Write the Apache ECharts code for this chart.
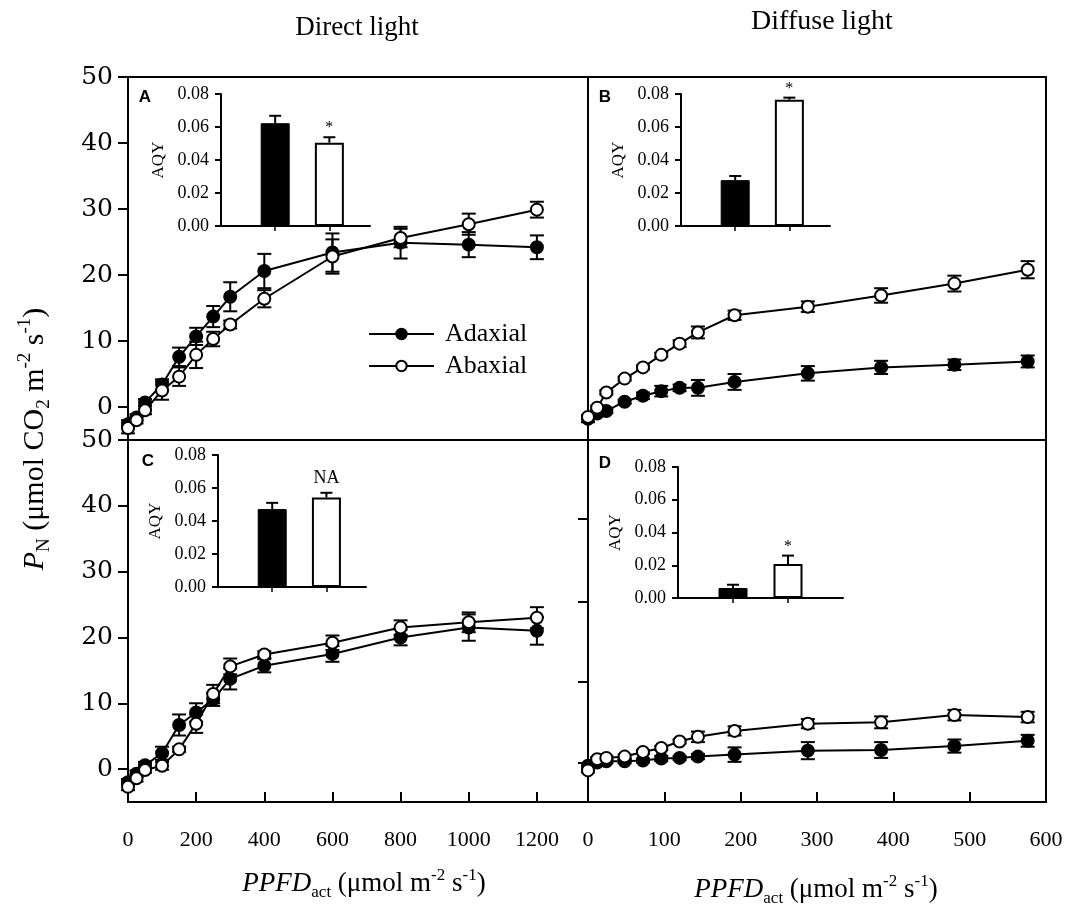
<!DOCTYPE html>
<html>
<head>
<meta charset="utf-8">
<script src="https://cdn.jsdelivr.net/npm/echarts@6/dist/echarts.min.js"></script>
<style>html,body{margin:0;padding:0;background:#fff}#c{width:1072px;height:905px}</style>
</head>
<body>
<div id="c"></div>
<script>
// ---------- data ----------
const directPPFD  = [0, 25, 50, 100, 150, 200, 250, 300, 400, 600, 800, 1000, 1200];
const diffusePPFD = [0, 12, 24, 48, 72, 96, 120, 144, 192, 288, 384, 480, 576];

const aAdaxial    = [-2.6, -1.6, 0.7, 3.4, 7.6, 10.7, 13.7, 16.7, 20.6, 23.4, 24.9, 24.6, 24.2];
const aAdaxialErr = [0.6, 0.5, 0.5, 0.8, 1.4, 1.3, 1.6, 2.2, 2.6, 2.9, 2.4, 1.9, 1.8];
const aAbaxial    = [-3.2, -2.0, -0.5, 2.5, 4.6, 7.9, 10.3, 12.5, 16.4, 22.8, 25.6, 27.7, 29.9];
const aAbaxialErr = [0.8, 0.5, 0.6, 1.4, 1.4, 2.0, 1.1, 0.6, 1.3, 2.6, 1.4, 1.6, 1.2];

const bAdaxial    = [-1.8, -1.0, -0.6, 0.8, 1.7, 2.4, 2.9, 2.9, 3.8, 5.1, 6.0, 6.4, 6.9];
const bAdaxialErr = [0.5, 0.4, 0.3, 0.3, 0.5, 0.8, 0.5, 1.2, 1.2, 1.1, 1.0, 0.8, 0.9];
const bAbaxial    = [-1.5, -0.1, 2.2, 4.3, 6.0, 7.9, 9.6, 11.3, 13.9, 15.2, 16.9, 18.7, 20.8];
const bAbaxialErr = [0.3, 0.3, 0.3, 0.3, 0.3, 0.3, 0.5, 0.9, 0.7, 0.8, 1.1, 1.2, 1.3];

const cAdaxial    = [-2.0, -0.7, 0.6, 2.4, 6.7, 8.6, 10.6, 13.7, 15.7, 17.5, 20.0, 21.5, 21.0];
const cAdaxialErr = [0.5, 0.5, 0.5, 1.0, 1.6, 1.4, 1.0, 1.6, 1.0, 1.2, 1.2, 2.0, 2.1];
const cAbaxial    = [-2.7, -1.4, -0.15, 0.5, 3.0, 6.9, 11.4, 15.6, 17.4, 19.2, 21.5, 22.3, 23.0];
const cAbaxialErr = [0.5, 0.5, 0.4, 0.6, 0.4, 1.4, 1.4, 1.2, 0.5, 1.1, 1.1, 1.5, 1.6];

const dAdaxial    = [0.5, 1.0, 1.2, 1.2, 1.3, 1.6, 1.7, 1.9, 2.2, 2.8, 2.9, 3.5, 4.3];
const dAdaxialErr = [0.3, 0.3, 0.3, 0.3, 0.3, 0.4, 0.3, 0.4, 1.1, 1.3, 1.2, 1.0, 0.9];
const dAbaxial    = [-0.2, 1.5, 1.7, 1.9, 2.6, 3.2, 4.2, 4.9, 5.8, 6.9, 7.1, 8.2, 7.9];
const dAbaxialErr = [0.3, 0.3, 0.3, 0.3, 0.3, 0.3, 0.3, 0.8, 0.7, 0.7, 0.9, 0.8, 0.8];

// inset AQY bars (panels A, B, C, D)
const aqyAdaxial    = [0.0623, 0.0278, 0.0472, 0.0061];
const aqyAdaxialErr = [0.0045, 0.0025, 0.0038, 0.0020];
const aqyAbaxial    = [0.0505, 0.0765, 0.0543, 0.0207];
const aqyAbaxialErr = [0.0033, 0.0013, 0.0028, 0.0052];
const aqyMarks      = ['*', '*', 'NA', '*'];

// tick labels
const pnTicks       = [0, 10, 20, 30, 40, 50];
const directTicks   = [0, 200, 400, 600, 800, 1000, 1200];
const diffuseTicks  = [0, 100, 200, 300, 400, 500, 600];
const aqyTicks      = [0, 0.02, 0.04, 0.06, 0.08];
const dSideTicks    = [0.9, 13.3, 25.5, 38.1];
const panelLetters  = ['A', 'B', 'C', 'D'];

// ---------- layout ----------
const SERIF = 'Liberation Serif';
const mainGrids = [
  {left: 128, top: 77,  width: 460, height: 363},
  {left: 588, top: 77,  width: 458, height: 363},
  {left: 128, top: 440, width: 460, height: 362},
  {left: 588, top: 440, width: 458, height: 362}
];
const insetGrids = [
  {left: 221, top: 94,  width: 149, height: 132, xmax: 2.75},
  {left: 681, top: 94,  width: 149, height: 132, xmax: 2.75},
  {left: 218, top: 455, width: 148, height: 132, xmax: 2.73},
  {left: 678, top: 467, width: 165, height: 131, xmax: 3.0}
];
const letterPos = [[145, 97], [605, 97], [148, 461], [605, 463]];

const panels = [
  {x: directPPFD,  ad: aAdaxial, adE: aAdaxialErr, ab: aAbaxial, abE: aAbaxialErr, xmax: 1350},
  {x: diffusePPFD, ad: bAdaxial, adE: bAdaxialErr, ab: bAbaxial, abE: bAbaxialErr, xmax: 600},
  {x: directPPFD,  ad: cAdaxial, adE: cAdaxialErr, ab: cAbaxial, abE: cAbaxialErr, xmax: 1350},
  {x: diffusePPFD, ad: dAdaxial, adE: dAdaxialErr, ab: dAbaxial, abE: dAbaxialErr, xmax: 600}
];

const grid = [], xAxis = [], yAxis = [], series = [];

mainGrids.forEach((g, i) => {
  grid.push({left: g.left, top: g.top, width: g.width, height: g.height, show: true,
    borderColor: '#000', borderWidth: 2, backgroundColor: 'transparent', containLabel: false});
  const isBottom = i >= 2;
  const ticks = (i % 2 === 0) ? directTicks : diffuseTicks;
  xAxis.push({type: 'value', gridIndex: i, min: 0, max: panels[i].xmax, position: 'bottom',
    axisLine: {show: isBottom, onZero: false, lineStyle: {color: '#000', width: 2}},
    axisTick: {show: isBottom, inside: true, length: 10, lineStyle: {color: '#000', width: 2}, customValues: ticks},
    axisLabel: {show: isBottom, customValues: ticks, margin: 27, color: '#000', fontFamily: SERIF, fontSize: 22,
      formatter: v => String(v)},
    splitLine: {show: false}});
  const isLeft = i % 2 === 0;
  yAxis.push({type: 'value', gridIndex: i, min: -5, max: 50,
    axisLine: {show: true, onZero: false, lineStyle: {color: '#000', width: 2}},
    axisTick: {show: isLeft || i === 3, inside: false, length: 10, lineStyle: {color: '#000', width: 2},
      customValues: i === 3 ? dSideTicks : pnTicks},
    axisLabel: {show: isLeft, customValues: pnTicks, margin: 15, color: '#000', fontFamily: 'DejaVu Serif', fontSize: 25,
      formatter: v => String(v)},
    splitLine: {show: false}});
});

insetGrids.forEach((g, i) => {
  grid.push({left: g.left, top: g.top, width: g.width, height: g.height, show: false});
  xAxis.push({type: 'value', gridIndex: 4 + i, min: 0, max: g.xmax,
    axisLine: {show: true, onZero: false, lineStyle: {color: '#000', width: 2}},
    axisTick: {show: true, inside: false, length: 5, customValues: [1, 2], lineStyle: {color: '#000', width: 1.5}},
    axisLabel: {show: false}, splitLine: {show: false}});
  yAxis.push({type: 'value', gridIndex: 4 + i, min: 0, max: 0.08, interval: 0.02,
    name: 'AQY', nameLocation: 'middle', nameGap: 54, nameRotate: 90,
    nameTextStyle: {color: '#000', fontFamily: SERIF, fontSize: 17},
    axisLine: {show: true, onZero: false, lineStyle: {color: '#000', width: 2}},
    axisTick: {show: true, inside: false, length: 6, lineStyle: {color: '#000', width: 2}},
    axisLabel: {show: true, margin: 12, color: '#000', fontFamily: SERIF, fontSize: 18,
      formatter: v => v.toFixed(2), customValues: aqyTicks},
    splitLine: {show: false}});
});

function errRender(cap) {
  return function (params, api) {
    const x = api.value(0), y = api.value(1), e = api.value(2);
    const top = api.coord([x, y + e]);
    const bot = api.coord([x, y - e]);
    const st = {stroke: '#000', lineWidth: 2};
    return {type: 'group', children: [
      {type: 'line', shape: {x1: top[0], y1: top[1], x2: bot[0], y2: bot[1]}, style: st},
      {type: 'line', shape: {x1: top[0] - cap, y1: top[1], x2: top[0] + cap, y2: top[1]}, style: st},
      {type: 'line', shape: {x1: bot[0] - cap, y1: bot[1], x2: bot[0] + cap, y2: bot[1]}, style: st}
    ]};
  };
}

panels.forEach((p, i) => {
  [['Adaxial', p.ad, p.adE, '#000', 3], ['Abaxial', p.ab, p.abE, '#fff', 5]].forEach(([name, vals, errs, fill, z]) => {
    series.push({type: 'custom', name: 'err' + name + i, xAxisIndex: i, yAxisIndex: i, z: z - 1,
      renderItem: errRender(7), encode: {x: 0, y: 1},
      data: p.x.map((x, k) => [x, vals[k], errs[k]]), silent: true});
    series.push({type: 'line', name: name, xAxisIndex: i, yAxisIndex: i, z: z,
      data: p.x.map((x, k) => [x, vals[k]]),
      symbol: 'circle', symbolSize: 12, showSymbol: true,
      itemStyle: {color: fill, borderColor: '#000', borderWidth: 2},
      lineStyle: {color: '#000', width: 2}, silent: true});
  });
});

// insets
insetGrids.forEach((g, i) => {
  const ax = 4 + i;
  series.push({type: 'bar', name: 'aqy' + i, xAxisIndex: ax, yAxisIndex: ax, barWidth: 29, z: 6,
    data: [
      {value: [1, aqyAdaxial[i]], itemStyle: {color: '#000', borderColor: '#000', borderWidth: 1}},
      {value: [2, aqyAbaxial[i]], itemStyle: {color: '#fff', borderColor: '#000', borderWidth: 2}}
    ], silent: true});
  series.push({type: 'custom', name: 'aqyErr' + i, xAxisIndex: ax, yAxisIndex: ax, z: 7,
    encode: {x: 0, y: 1},
    data: [[1, aqyAdaxial[i], aqyAdaxialErr[i]], [2, aqyAbaxial[i], aqyAbaxialErr[i]]],
    renderItem: function (params, api) {
      const x = api.value(0), y = api.value(1), e = api.value(2);
      const top = api.coord([x, y + e]);
      const base = api.coord([x, y]);
      const st = {stroke: '#000', lineWidth: 2};
      return {type: 'group', children: [
        {type: 'line', shape: {x1: base[0], y1: base[1], x2: top[0], y2: top[1]}, style: st},
        {type: 'line', shape: {x1: top[0] - 6, y1: top[1], x2: top[0] + 6, y2: top[1]}, style: st}
      ]};
    }, silent: true});
  series.push({type: 'custom', name: 'aqyMark' + i, xAxisIndex: ax, yAxisIndex: ax, z: 7,
    encode: {x: 0, y: 1},
    data: [[2, aqyAbaxial[i] + aqyAbaxialErr[i]]],
    renderItem: function (params, api) {
      const pt = api.coord([api.value(0), api.value(1)]);
      const isStar = aqyMarks[i] === '*';
      return {type: 'text', x: pt[0], y: pt[1] - (isStar ? 1 : 6),
        style: {text: aqyMarks[i], fill: '#000', align: 'center', verticalAlign: 'bottom',
          font: (isStar ? '16px ' : '18px ') + SERIF}};
    }, silent: true});
});

const richAxis = (big, small, lh) => ({
  i: {fontFamily: SERIF, fontSize: big, fontStyle: 'italic', fill: '#000', lineHeight: lh, verticalAlign: 'middle'},
  n: {fontFamily: SERIF, fontSize: big, fill: '#000', lineHeight: lh, verticalAlign: 'middle'},
  sub: {fontFamily: SERIF, fontSize: small, fill: '#000', lineHeight: lh, verticalAlign: 'bottom'},
  sup: {fontFamily: SERIF, fontSize: small, fill: '#000', lineHeight: lh, verticalAlign: 'top'}
});

const graphic = [
  {type: 'text', x: 357, y: 28, style: {text: 'Direct light', font: '27px ' + SERIF, fill: '#000', align: 'center', verticalAlign: 'middle'}},
  {type: 'text', x: 822, y: 22, style: {text: 'Diffuse light', font: '28px ' + SERIF, fill: '#000', align: 'center', verticalAlign: 'middle'}},
  {type: 'text', x: 35, y: 439, rotation: Math.PI / 2,
    style: {text: '{i|P}{sub|N}{n| (μmol CO}{sub|2}{n| m}{sup|-2}{n| s}{sup|-1}{n|)}',
      align: 'center', verticalAlign: 'middle', fill: '#000', rich: richAxis(30, 19, 38)}},
  {type: 'text', x: 364, y: 884,
    style: {text: '{i|PPFD}{sub|act}{n| (μmol m}{sup|-2}{n| s}{sup|-1}{n|)}',
      align: 'center', verticalAlign: 'middle', fill: '#000', rich: richAxis(27, 17, 34)}},
  {type: 'text', x: 816, y: 890,
    style: {text: '{i|PPFD}{sub|act}{n| (μmol m}{sup|-2}{n| s}{sup|-1}{n|)}',
      align: 'center', verticalAlign: 'middle', fill: '#000', rich: richAxis(27, 17, 34)}}
];
panelLetters.forEach((l, i) => {
  graphic.push({type: 'text', x: letterPos[i][0], y: letterPos[i][1],
    style: {text: l, font: 'bold 17px Liberation Sans', fill: '#000', align: 'center', verticalAlign: 'middle'}});
});

const chart = echarts.init(document.getElementById('c'), null, {renderer: 'canvas'});
chart.setOption({
  animation: false,
  backgroundColor: '#fff',
  grid, xAxis, yAxis, series, graphic,
  legend: {data: ['Adaxial', 'Abaxial'], orient: 'vertical', left: 363, top: 316,
    itemWidth: 65, itemHeight: 13, itemGap: 6, selectedMode: false,
    textStyle: {color: '#000', fontFamily: SERIF, fontSize: 26, padding: [0, 0, 0, 6]}}
});
</script>
</body>
</html>
